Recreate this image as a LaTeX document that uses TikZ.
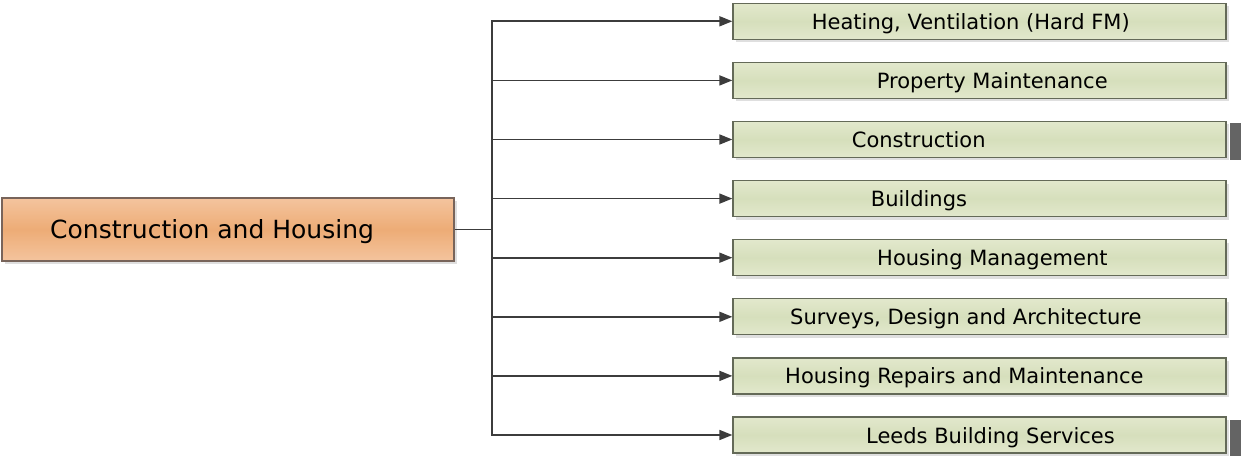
\documentclass[tikz,border=0pt]{standalone}
\usepackage{fontspec}
\setmainfont{DejaVu Sans}
\usetikzlibrary{arrows.meta,shadows}

\definecolor{rootTop}{RGB}{244,196,158}
\definecolor{rootMid}{RGB}{237,172,118}
\definecolor{rootEdge}{RGB}{120,100,90}
\definecolor{leafTop}{RGB}{226,232,204}
\definecolor{leafMid}{RGB}{214,223,188}
\definecolor{leafEdge}{RGB}{100,106,88}
\definecolor{linkGray}{RGB}{60,60,60}
\definecolor{barGray}{RGB}{100,100,100}

\tikzset{
  rootbox/.style={draw=rootEdge, line width=1.3pt, top color=rootTop,
    bottom color=rootTop, middle color=rootMid, inner sep=0pt,
    minimum width=452pt, minimum height=63pt,
    drop shadow={shadow xshift=3pt, shadow yshift=-3pt, fill=gray!25, opacity=1}},
  leafbox/.style={draw=leafEdge, line width=1.3pt, top color=leafTop,
    bottom color=leafTop, middle color=leafMid, inner sep=0pt,
    minimum width=493pt, minimum height=36pt,
    drop shadow={shadow xshift=3pt, shadow yshift=-3pt, fill=gray!25, opacity=1}},
  roottext/.style={anchor=base west, inner sep=0pt, font=\fontsize{25}{30}\selectfont},
  leaftext/.style={anchor=base west, inner sep=0pt, font=\fontsize{21}{25}\selectfont},
  link/.style={draw=linkGray, line width=1.7pt},
  tip/.style={-{Triangle[length=13pt,width=10pt]}}
}

\begin{document}
\begin{tikzpicture}[x=1pt,y=-1pt]
  \useasboundingbox (0,0) rectangle (1245,457);

  % Hauptbereich
  \node[rootbox] (root) at (228,229.5) {};
  \node[roottext] (roottxt) at (50,239) {Construction and Housing};

  % Teilbereiche
  \node[leafbox] (l1) at (979.5,21.3)  {};
  \node[leafbox] (l2) at (979.5,80.4)  {};
  \node[leafbox] (l3) at (979.5,139.5) {};
  \node[leafbox] (l4) at (979.5,198.6) {};
  \node[leafbox] (l5) at (979.5,257.7) {};
  \node[leafbox] (l6) at (979.5,316.8) {};
  \node[leafbox] (l7) at (979.5,375.9) {};
  \node[leafbox] (l8) at (979.5,435.0) {};

  % Beschriftungen
  \node[leaftext] (t1) at (811.7,29.3)  {Heating, Ventilation (Hard FM)};
  \node[leaftext] (t2) at (876.7,88.4)  {Property Maintenance};
  \node[leaftext] (t3) at (851.7,147.5) {Construction};
  \node[leaftext] (t4) at (870.7,206.6) {Buildings};
  \node[leaftext] (t5) at (877.0,265.7) {Housing Management};
  \node[leaftext] (t6) at (790.0,324.8) {Surveys, Design and Architecture};
  \node[leaftext] (t7) at (785.0,383.9) {Housing Repairs and Maintenance};
  \node[leaftext] (t8) at (866.0,443.0) {Leeds Building Services};

  % Verbindungen
  \coordinate (jn) at (492,229.5);
  \draw[link] (root.east) -- (jn);
  \foreach \i in {1,...,8}
    \draw[link,tip] (jn) |- (l\i.west);

  % Randmarken
  \fill[barGray] (1230,123) rectangle (1241,160);
  \fill[barGray] (1230,420) rectangle (1241,456);

\end{tikzpicture}
\end{document}
